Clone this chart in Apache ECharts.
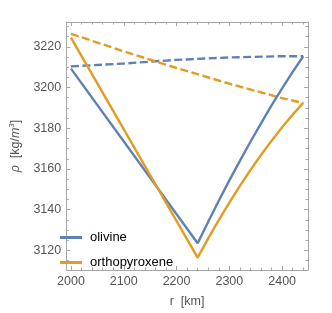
<!DOCTYPE html>
<html>
<head>
<meta charset="utf-8">
<script src="https://cdn.jsdelivr.net/npm/echarts@6/dist/echarts.min.js"></script>
<style>html,body{margin:0;padding:0;background:#fff}#c{width:332px;height:313px}</style>
</head>
<body>
<div id="c"></div>
<script>
// Data
const rSolid = [2000, 2240, 2260, 2280, 2300, 2320, 2340, 2360, 2380, 2400, 2420, 2440];
const olivineSolid = [3209.3, 3123.5, 3134.1, 3144.4, 3154.4, 3164.0, 3173.4, 3182.4, 3191.2, 3199.6, 3207.7, 3215.4];
const orthoSolid = [3224.5, 3116.5, 3125.9, 3134.9, 3143.5, 3151.7, 3159.5, 3166.9, 3173.9, 3180.5, 3186.7, 3192.5];
const rDashed = [2000, 2100, 2200, 2300, 2400, 2440];
const olivineDashed = [3210.4, 3211.8, 3213.6, 3214.8, 3215.4, 3215.4];
const orthoDashed = [3226.4, 3217.8, 3209.6, 3201.9, 3194.8, 3192.4];
const xTicks = [2000, 2100, 2200, 2300, 2400];
const yTicks = [3120, 3140, 3160, 3180, 3200, 3220];
const xMinor = [2020, 2040, 2060, 2080, 2120, 2140, 2160, 2180, 2220, 2240, 2260, 2280, 2320, 2340, 2360, 2380, 2420, 2440];
const yMinor = [3115, 3125, 3130, 3135, 3145, 3150, 3155, 3165, 3170, 3175, 3185, 3190, 3195, 3205, 3210, 3215, 3225, 3230];

const BLUE = '#5E81B5', ORANGE = '#E19C24', FRAME = '#a6a6a6';
const FONT = 'Liberation Sans';
const pairs = (xs, ys) => xs.map((x, i) => [x, ys[i]]);

function axis(kind, pos, ticks, len, main) {
  return {
    type: 'value', position: pos,
    min: kind === 'x' ? 1991 : 3110.4,
    max: kind === 'x' ? 2449 : 3232.2,
    splitLine: {show: false},
    axisLine: {show: main, lineStyle: {color: FRAME, width: 1}},
    axisTick: {show: true, inside: true, length: len, customValues: ticks, lineStyle: {color: FRAME, width: 1}},
    axisLabel: {show: false},
    z: 1
  };
}

const xA0 = axis('x', 'bottom', xTicks, 4, true);
xA0.axisLabel = {show: true, customValues: xTicks, formatter: v => String(v), color: '#555', fontSize: 12.5, fontFamily: FONT, margin: 5};
xA0.name = 'r  [km]'; xA0.nameLocation = 'middle'; xA0.nameGap = 25;
xA0.nameTextStyle = {color: '#555', fontSize: 12.5, fontFamily: FONT};
const yA0 = axis('y', 'left', yTicks, 4, true);
yA0.axisLabel = {show: true, customValues: yTicks, formatter: v => String(v), color: '#555', fontSize: 12.5, fontFamily: FONT, margin: 5};
yA0.name = '{i|ρ}  [kg/{i|m}{s|3}]'; yA0.nameLocation = 'middle'; yA0.nameGap = 38;
yA0.nameTextStyle = {color: '#555', fontSize: 12.5, fontFamily: FONT,
  rich: {i: {fontStyle: 'italic', fontSize: 12.5, fontFamily: FONT, color: '#555'},
         s: {fontSize: 8, verticalAlign: 'bottom', padding: [0, 0, 8, 0], fontFamily: FONT, color: '#555'}}};

const LINE_ICON = 'path://M0,0H22V3H0Z';
const option = {
  animation: false,
  backgroundColor: '#fff',
  grid: {left: 54, top: 22, right: 24, bottom: 37, containLabel: false},
  xAxis: [xA0, axis('x', 'bottom', xMinor, 2.5, false), axis('x', 'top', xTicks, 4, true), axis('x', 'top', xMinor, 2.5, false)],
  yAxis: [yA0, axis('y', 'left', yMinor, 2.5, false), axis('y', 'right', yTicks, 4, true), axis('y', 'right', yMinor, 2.5, false)],
  legend: {
    data: [{name: 'olivine', icon: LINE_ICON}, {name: 'orthopyroxene', icon: LINE_ICON}],
    orient: 'vertical', left: 55, top: 226,
    itemWidth: 22, itemHeight: 14, itemGap: 12, symbolKeepAspect: true,
    textStyle: {color: '#000', fontSize: 13, fontFamily: FONT, padding: [0, 0, 0, 3]}
  },
  series: [
    {name: 'olivine dashed', type: 'line', data: pairs(rDashed, olivineDashed), showSymbol: false, symbol: 'none',
      lineStyle: {color: BLUE, width: 2.4, type: [8, 3.5]}, itemStyle: {color: BLUE}, z: 3},
    {name: 'orthopyroxene dashed', type: 'line', data: pairs(rDashed, orthoDashed), showSymbol: false, symbol: 'none',
      lineStyle: {color: ORANGE, width: 2.4, type: [8, 3.5]}, itemStyle: {color: ORANGE}, z: 3},
    {name: 'olivine', type: 'line', data: pairs(rSolid, olivineSolid), showSymbol: false, symbol: 'none',
      lineStyle: {color: BLUE, width: 2.4}, itemStyle: {color: BLUE}, z: 4},
    {name: 'orthopyroxene', type: 'line', data: pairs(rSolid, orthoSolid), showSymbol: false, symbol: 'none',
      lineStyle: {color: ORANGE, width: 2.4}, itemStyle: {color: ORANGE}, z: 4}
  ]
};
const chart = echarts.init(document.getElementById('c'), null, {renderer: 'canvas'});
chart.setOption(option);
</script>
</body>
</html>
